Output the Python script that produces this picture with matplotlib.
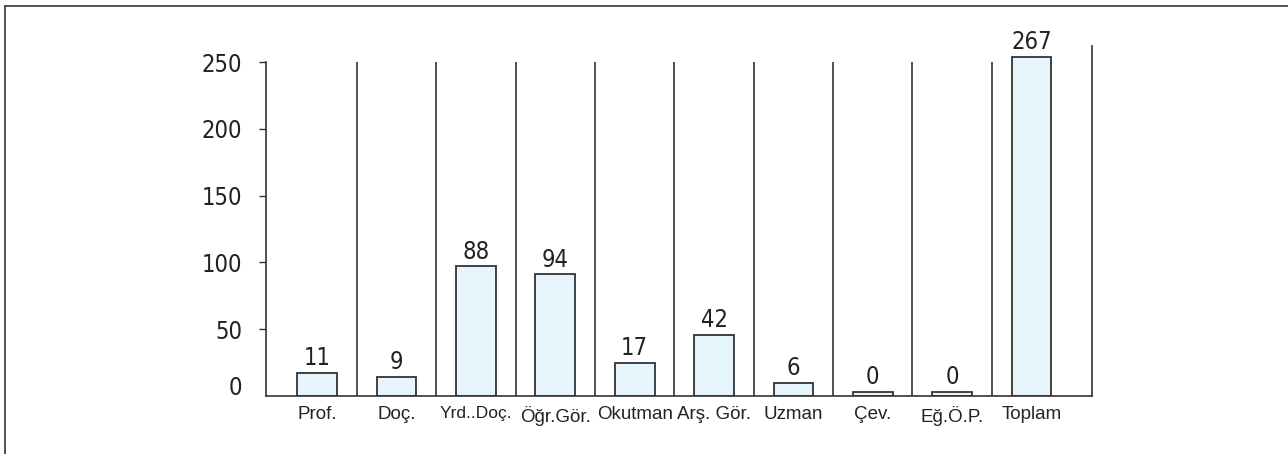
import matplotlib
matplotlib.use("Agg")
import matplotlib.pyplot as plt
import matplotlib.transforms as mtransforms
from matplotlib.lines import Line2D

categories = ["Prof.", "Doç.", "Yrd..Doç.", "Öğr.Gör.", "Okutman",
              "Arş. Gör.", "Uzman", "Çev.", "Eğ.Ö.P.", "Toplam"]
# heights of the drawn bars (as they appear on the axis)
bar_heights = [17, 14, 97, 91, 25, 46, 10, 3, 3, 254]
# numbers printed above the bars
value_labels = ["11", "9", "88", "94", "17", "42", "6", "0", "0", "267"]
y_ticks = [0, 50, 100, 150, 200, 250]

BAR_FILL = "#E6F4FC"
EDGE = "#333333"
TEXT = "#222222"
NUM_FONT = dict(family="DejaVu Sans", stretch="condensed")
CAT_FONT = ["Liberation Sans", "DejaVu Sans"]

fig = plt.figure(figsize=(12.88, 4.54), dpi=100)
ax = fig.add_axes([0.2063, 0.1278, 0.6413, 0.7709])

x = list(range(len(categories)))
ax.bar(x, bar_heights, width=0.5, color=BAR_FILL, edgecolor=EDGE, linewidth=1.3)

for xi, h, lab in zip(x, bar_heights, value_labels):
    ax.annotate(lab, (xi, h), xytext=(0, 2), textcoords="offset points",
                ha="center", va="bottom", fontsize=17, color=TEXT, **NUM_FONT)

# divider lines between categories
ax.vlines([i + 0.5 for i in x[:-1]], 0, 250, color=EDGE, linewidth=1.2)

ax.set_xlim(-0.65, 9.76)
ax.set_ylim(0, 262)

ax.spines["top"].set_visible(False)
ax.spines["left"].set_bounds(0, 250)
for side in ["left", "right", "bottom"]:
    ax.spines[side].set_color(EDGE)
    ax.spines[side].set_linewidth(1.2)

ax.set_yticks(y_ticks)
ax.set_yticklabels([str(t) for t in y_ticks], fontsize=17, color=TEXT, **NUM_FONT)
ax.tick_params(axis="y", length=5, width=1.0, color=EDGE, pad=12)
# the zero label sits a bit above the baseline in the original
zero_lab = ax.get_yticklabels()[0]
zero_lab.set_transform(zero_lab.get_transform() +
                       mtransforms.ScaledTranslation(0, 10 / 100, fig.dpi_scale_trans))
ax.yaxis.get_major_ticks()[0].tick1line.set_visible(False)

ax.set_xticks(x)
ax.set_xticklabels(categories, fontsize=13.5, color=TEXT, family=CAT_FONT)
ax.get_xticklabels()[2].set_fontsize(12.5)
ax.tick_params(axis="x", length=0, pad=7)

# frame around the figure (top and left edges visible)
fig.add_artist(Line2D([4.5 / 1288, 4.5 / 1288], [0, 1 - 6 / 454],
                      transform=fig.transFigure, color="#444444", linewidth=1.3))
fig.add_artist(Line2D([4.5 / 1288, 1], [1 - 6 / 454, 1 - 6 / 454],
                      transform=fig.transFigure, color="#444444", linewidth=1.3))

fig.savefig("out.png", dpi=100)
